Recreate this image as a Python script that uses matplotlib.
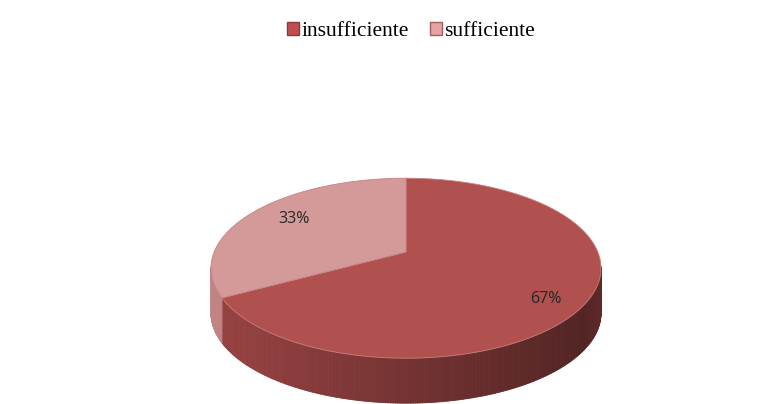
import numpy as np
import matplotlib.pyplot as plt
from matplotlib.patches import Polygon, Patch

labels = ['insufficiente', 'sufficiente']
values = [67, 33]
top_colors = ['#B0504F', '#D49A99']
side_colors = [(0.60, 0.26, 0.26), (0.76, 0.52, 0.52)]
legend_colors = ['#C0504D', '#E6A3A2']

# pie geometry in pixel units (slight perspective, like the 3D pie it copies)
cx, cy = 406, 252
p = 0.18
A = 195 * np.sqrt(1 - p**2)
B = 90 * (1 - p**2)
depth = 45

fig = plt.figure(figsize=(7.58, 4.04), dpi=100)
ax = fig.add_axes([0, 0, 1, 1])
ax.set_xlim(0, 758)
ax.set_ylim(404, 0)
ax.axis('off')


def proj(t, r=1.0):
    rad = np.radians(t)
    X, Z = r * np.cos(rad), r * np.sin(rad)
    w = 1 + p * Z
    return cx + A * X / w, cy - B * Z / w


ell_cy = cy + B * p / (1 - p**2)

fracs = np.array(values) / sum(values)
starts = 90 - 360 * np.concatenate([[0], np.cumsum(fracs)[:-1]])
ends = starts - 360 * fracs

# sides: front strips only, shaded left to right
for i in range(len(values)):
    ts = np.linspace(starts[i], ends[i], 400)
    for t0, t1 in zip(ts[:-1], ts[1:]):
        x0, y0 = proj(t0)
        x1, y1 = proj(t1)
        if max(y0, y1) < ell_cy - 1:
            continue
        xn = ((x0 + x1) / 2 - (cx - 195)) / 390
        shade = 1.0 - 0.48 * xn
        if xn > 0.95:
            shade += (xn - 0.95) * 2
        col = tuple(min(1, c * shade) for c in side_colors[i])
        ax.add_patch(Polygon([(x0, y0), (x1, y1), (x1, y1 + depth), (x0, y0 + depth)],
                             closed=True, facecolor=col, edgecolor=col, lw=0.6))

# top faces
for i in range(len(values)):
    ts = np.linspace(starts[i], ends[i], 300)
    xs, ys = proj(ts)
    verts = [(cx, cy)] + list(zip(xs, ys))
    ax.add_patch(Polygon(verts, closed=True, facecolor=top_colors[i],
                         edgecolor='#C8807F', lw=0.6))

# percentage labels
for i in range(len(values)):
    mid = (starts[i] + ends[i]) / 2
    lx, ly = proj(mid, 0.76)
    ly += max(0, -np.sin(np.radians(mid))) * 25
    ax.text(lx + 5, ly - 2, f'{values[i]}%', ha='center', va='center', fontsize=11.5,
            color='#262626', family='Open Sans')

handles = [Patch(facecolor=legend_colors[i], edgecolor='#8B3A3A' if i == 0 else '#A06060',
                 label=labels[i]) for i in range(len(labels))]
ax.legend(handles=handles, loc='center', bbox_to_anchor=(0.542, 0.921), ncol=2, frameon=False,
          prop={'family': 'Liberation Serif', 'size': 15.5}, handlelength=0.56, handleheight=0.56,
          handletextpad=0.1, columnspacing=1.0)

fig.savefig('out.png', dpi=100, facecolor='white')
